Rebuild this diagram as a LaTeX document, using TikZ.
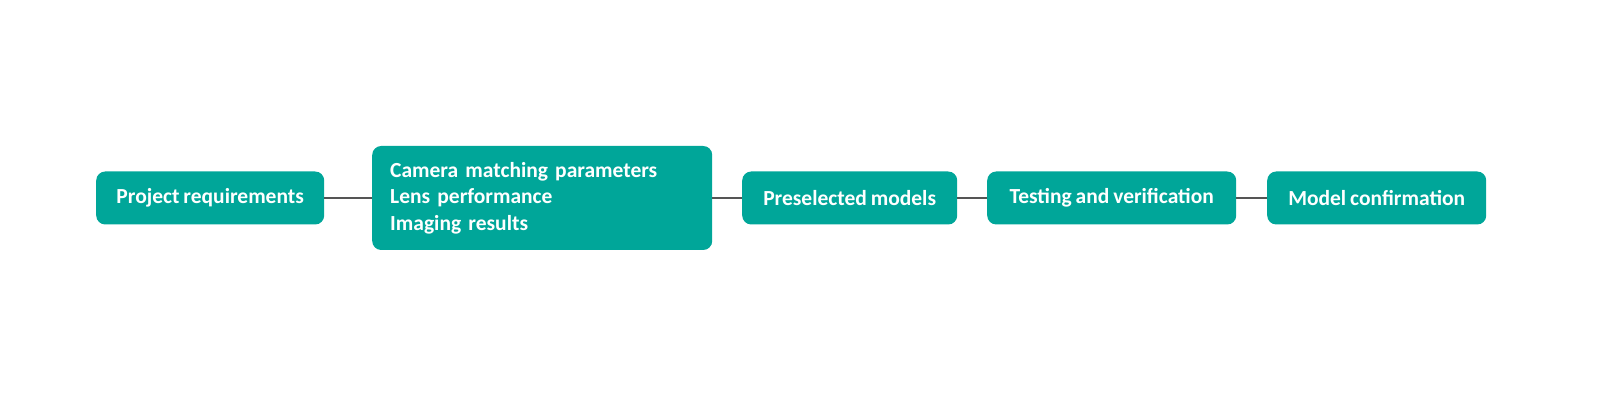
\documentclass[tikz,border=0pt]{standalone}
\usepackage{fontspec}
\setmainfont{Carlito}[WordSpace=0.8]
\definecolor{teal1}{HTML}{00A699}
\definecolor{link}{HTML}{555555}
\begin{document}
\begin{tikzpicture}[x=1pt,y=1pt,
  box/.style={fill=teal1,rounded corners=9pt,text=white,font=\fontsize{21.5}{26.5}\selectfont\bfseries,minimum height=53pt,inner sep=0pt,anchor=west},
  conn/.style={draw=link,line width=1.5pt}]
\useasboundingbox (0,0) rectangle (1600,406);
\node[box,minimum width=228pt] (a) at (96,208) {Project requirements};
\node[box,minimum width=340pt,minimum height=104pt,text width=304pt,align=left,inner xsep=18pt] (b) at (372,208) {Camera matching parameters\\Lens performance\\Imaging results};
\node[box,minimum width=215pt] (c) at (742,208) {Preselected models};
\node[box,minimum width=249pt] (d) at (987,208) {Testing and verification};
\node[box,minimum width=219pt] (e) at (1267,208) {Model confirmation};
\draw[conn] (a) -- (b);
\draw[conn] (b.east |- c.west) -- (c);
\draw[conn] (c) -- (d);
\draw[conn] (d) -- (e);
\end{tikzpicture}
\end{document}
